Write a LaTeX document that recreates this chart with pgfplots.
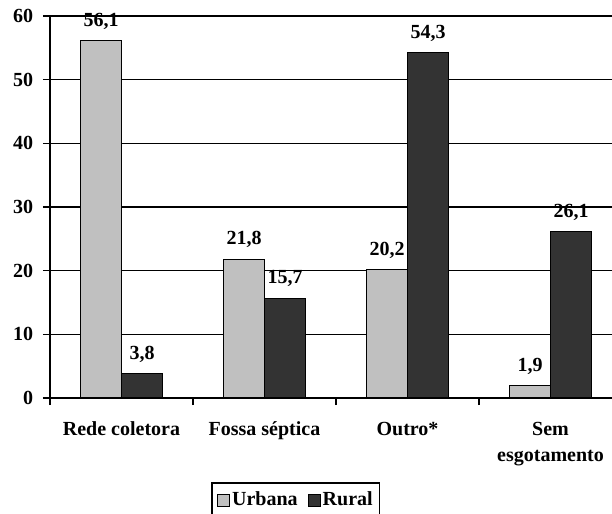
\documentclass[border=0pt]{standalone}
\usepackage{fontspec}
\setmainfont{Liberation Serif}
\usepackage{pgfplots}
\pgfplotsset{compat=1.18}
\definecolor{urbana}{HTML}{C0C0C0}
\definecolor{rural}{HTML}{333333}
\begin{document}
\fontsize{20bp}{26bp}\selectfont\bfseries
\begin{tikzpicture}
\begin{axis}[
    at={(50bp,116bp)}, anchor=south west,
    scale only axis, width=572bp, height=382bp,
    ybar=0pt, bar width=41bp,
    xmin=-0.5, xmax=3.5, ymin=0, ymax=60,
    axis x line*=bottom, axis y line*=left,
    axis line style={black, line width=1.5bp},
    ytick={0,10,...,50},
    extra y ticks={60},
    extra y tick style={grid style={gray!45, line width=1.5bp}},
    ymajorgrids,
    major grid style={black, line width=1.5bp},
    yticklabel style={xshift=-3bp, /pgf/number format/precision=0, /pgf/number format/fixed zerofill=false},
    xtick={0,1,2,3},
    xticklabels={Rede coletora, Fossa séptica, Outro*, {Sem\\esgotamento}},
    xticklabel style={align=center, yshift=-10bp},
    major x tick style={draw=none},
    minor xtick={-0.5,0.5,1.5,2.5,3.5},
    tick align=outside,
    major tick length=7bp, minor tick length=7bp,
    tick style={black, line width=1.5bp},
    /pgf/number format/assume math mode=true,
    /pgf/number format/use comma,
    /pgf/number format/fixed,
    /pgf/number format/precision=1,
    /pgf/number format/fixed zerofill,
    nodes near coords,
    nodes near coords style={font=\bfseries, yshift=4bp},
    clip=false,
    legend style={at={(0.43,-0.22)}, anchor=north, draw=black, line width=1.5bp,
        font=\bfseries, inner xsep=5bp, inner ysep=7bp,
        /tikz/every even column/.append style={column sep=8bp}},
    legend columns=-1,
    legend image code/.code={\draw[#1, draw=black, line width=1bp] (0bp,-6bp) rectangle (12bp,6bp);},
]
\addplot[fill=urbana, draw=black, line width=1bp] coordinates {(0,56.1) (1,21.8) (2,20.2) (3,1.9)};
\addplot[fill=rural, draw=black, line width=1bp] coordinates {(0,3.8) (1,15.7) (2,54.3) (3,26.1)};
\legend{Urbana, Rural}
\end{axis}
\pgfresetboundingbox
\useasboundingbox (0,0) rectangle (612bp,514bp);
\end{tikzpicture}
\end{document}
